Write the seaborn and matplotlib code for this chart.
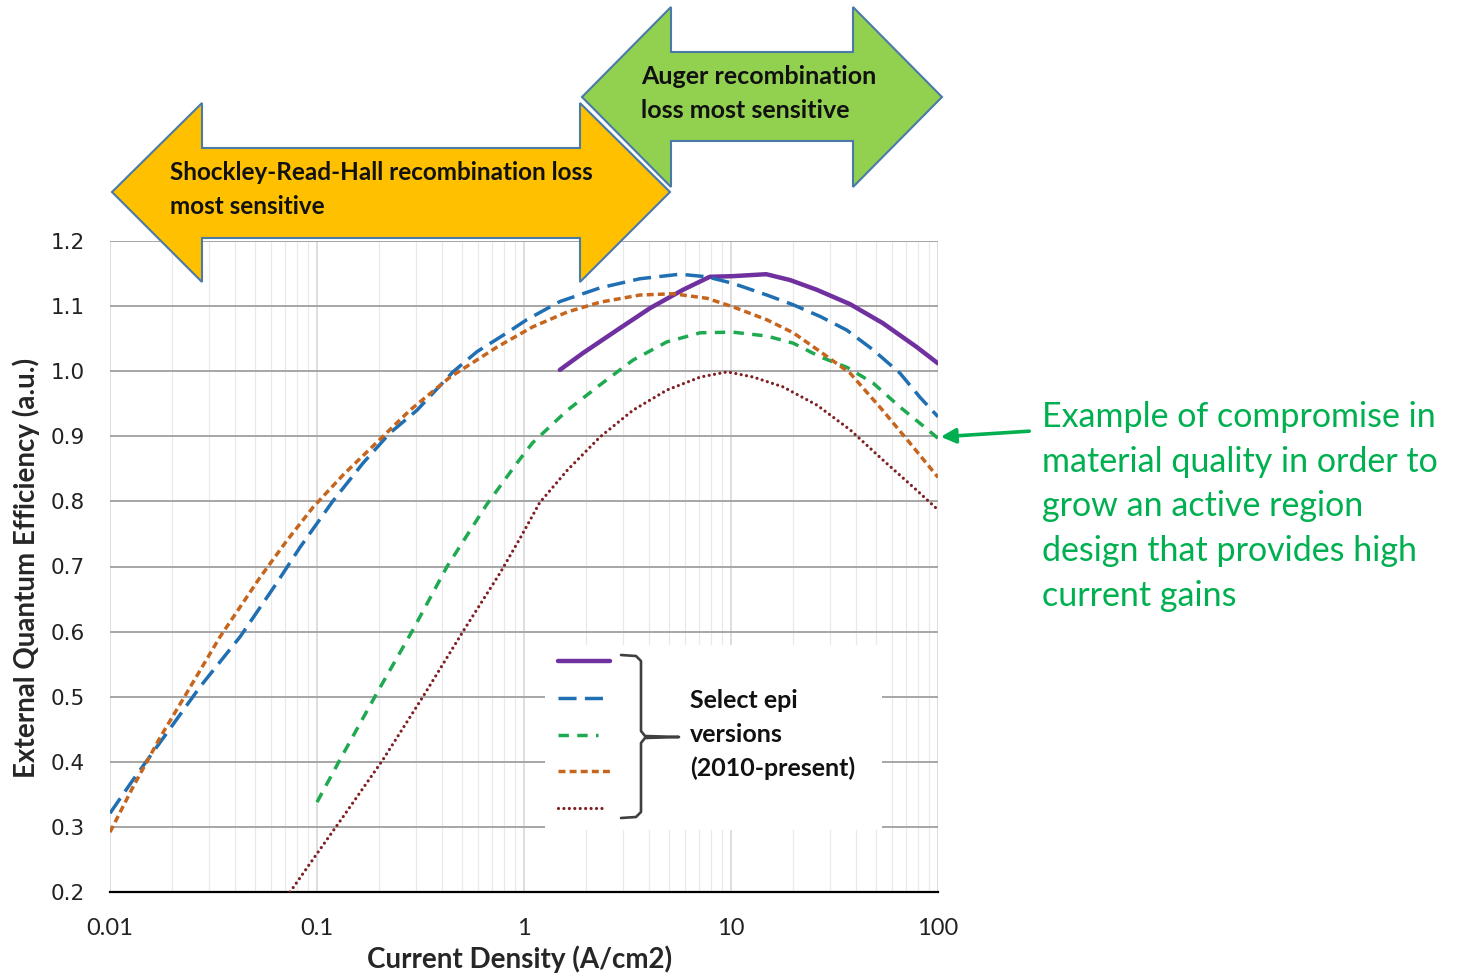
import matplotlib
matplotlib.use("Agg")
import matplotlib.pyplot as plt
import matplotlib.ticker as mtick
import seaborn as sns
from matplotlib.patches import Polygon, Rectangle, FancyArrowPatch
from matplotlib.lines import Line2D

# values
purple_x = [1.49, 1.93, 2.81, 4.07, 5.86, 7.9, 10.2, 14.8, 19.3, 26, 37.6, 54, 79, 100]
purple_y = [1.002, 1.028, 1.063, 1.097, 1.125, 1.145, 1.146, 1.149, 1.14, 1.125,
            1.103, 1.074, 1.037, 1.012]

blue_x = [0.01, 0.0129, 0.0188, 0.0272, 0.0425, 0.064, 0.083, 0.119, 0.167, 0.225,
          0.304, 0.454, 0.593, 0.828, 1.03, 1.49, 2.33, 3.63, 5.67, 7.65, 10.2, 14.9,
          20, 27, 36.3, 48.5, 65.5, 81.8, 100]
blue_y = [0.321, 0.372, 0.444, 0.515, 0.592, 0.675, 0.73, 0.80, 0.859, 0.905,
          0.94, 0.999, 1.03, 1.059, 1.079, 1.107, 1.128, 1.142, 1.149, 1.145, 1.135, 1.117,
          1.102, 1.084, 1.063, 1.033, 0.997, 0.96, 0.93]

green_x = [0.1, 0.129, 0.195, 0.291, 0.425, 0.66, 0.925, 1.1, 1.62, 2.33, 3.36, 4.9,
           7.1, 10.2, 14.9, 20, 27, 36.3, 48.5, 65.5, 81.8, 100]
green_y = [0.338, 0.403, 0.506, 0.603, 0.70, 0.795, 0.859, 0.89, 0.94, 0.979, 1.017, 1.045,
           1.059, 1.06, 1.054, 1.043, 1.022, 1.006, 0.982, 0.945, 0.92, 0.897]

orange_x = [0.01, 0.0129, 0.0175, 0.0235, 0.034, 0.053, 0.0716, 0.0957, 0.134, 0.195,
            0.281, 0.44, 0.74, 1.1, 1.62, 2.33, 3.63, 5.25, 7.65, 10.2, 14.9, 20, 27,
            37.6, 54, 73, 100]
orange_y = [0.292, 0.361, 0.438, 0.506, 0.592, 0.683, 0.74, 0.791, 0.841, 0.891,
            0.94, 0.991, 1.037, 1.068, 1.091, 1.106, 1.117, 1.119, 1.112, 1.099, 1.079, 1.059, 1.03,
            0.997, 0.94, 0.89, 0.837]

red_x = [0.0741, 0.1, 0.134, 0.208, 0.325, 0.507, 0.766, 0.956, 1.19, 1.62, 2.33, 3.36,
         4.9, 7.1, 9.6, 12.8, 17.8, 26, 37.6, 54, 79, 100]
red_y = [0.20, 0.259, 0.316, 0.403, 0.50, 0.60, 0.69, 0.743, 0.798, 0.848, 0.899, 0.94,
         0.971, 0.991, 0.999, 0.991, 0.976, 0.948, 0.91, 0.864, 0.817, 0.787]

x_ticks = [0.01, 0.1, 1, 10, 100]
x_tick_labels = ["0.01", "0.1", "1", "10", "100"]
y_ticks = [0.2, 0.3, 0.4, 0.5, 0.6, 0.7, 0.8, 0.9, 1.0, 1.1, 1.2]

legend_text = ["Select epi", "versions", "(2010-present)"]
note_lines = ["Example of compromise in", "material quality in order to",
              "grow an active region", "design that provides high", "current gains"]

sns.set_style("white")
plt.rcParams['font.family'] = ['Lato', 'DejaVu Sans']
plt.rcParams['lines.scale_dashes'] = False

W, H = 1465, 974
fig = plt.figure(figsize=(W / 100, H / 100), dpi=100)
ax = fig.add_axes([110 / W, 1 - 892 / H, 828 / W, 651 / H])


def fx(px):
    return px / W


def fy(py):
    return 1 - py / H


RED = "#7F1F22"
styles = [
    (purple_x, purple_y, "#7030A0", 3.2, "-"),
    (blue_x, blue_y, "#1F6FB2", 2.5, (0, (13, 6))),
    (green_x, green_y, "#1FAA52", 2.5, (0, (7.5, 6))),
    (orange_x, orange_y, "#C5651E", 2.5, (0, (5, 3))),
    (red_x, red_y, RED, 2.3, (0, (0.01, 3.9))),
]
for xs, ys, c, lw, ls in styles:
    sns.lineplot(x=xs, y=ys, ax=ax, color=c, lw=lw, linestyle=ls, zorder=3,
                 dash_capstyle="round" if c == RED else "butt")

ax.set_xscale("log")
ax.set_xlim(0.01, 100)
ax.set_ylim(0.2, 1.2)
ax.xaxis.set_major_locator(mtick.FixedLocator(x_ticks))
ax.xaxis.set_major_formatter(mtick.FixedFormatter(x_tick_labels))
ax.xaxis.set_minor_locator(mtick.LogLocator(base=10, subs=range(2, 10)))
ax.xaxis.set_minor_formatter(mtick.NullFormatter())
ax.yaxis.set_major_locator(mtick.FixedLocator(y_ticks))
ax.yaxis.set_major_formatter(mtick.FormatStrFormatter("%.1f"))

ax.grid(True, axis="y", which="major", color="#A6A6A6", lw=1.4)
ax.grid(True, axis="x", which="major", color="#D4D4D4", lw=1.1)
ax.grid(True, axis="x", which="minor", color="#E9E9E9", lw=0.9)
ax.set_axisbelow(True)

for s in ["left", "top", "right"]:
    ax.spines[s].set_visible(False)
ax.spines["bottom"].set_color("black")
ax.spines["bottom"].set_linewidth(1.6)

ax.tick_params(axis="x", which="major", direction="in", length=7, width=1.3,
               color="black", pad=19, labelsize=17, labelcolor="#222222")
ax.tick_params(axis="x", which="minor", direction="in", length=5, width=1.1,
               color="black")
ax.tick_params(axis="y", length=0, pad=18, labelsize=15.5, labelcolor="#222222")
for lab in ax.get_yticklabels():
    lab.set_family("DejaVu Sans")

ax.set_xlabel("Current Density (A/cm2)", fontsize=20, fontweight="bold")
ax.xaxis.set_label_coords((520 - 110) / 828, -(945 - 892) / 651)
ax.set_ylabel("External Quantum Efficiency (a.u.)", fontsize=20, fontweight="bold")
ax.yaxis.set_label_coords(-(110 - 40) / 828, 0.498)

# legend box
ax.add_patch(Rectangle((fx(545), fy(830)), fx(882) - fx(545), fy(645) - fy(830),
                       transform=fig.transFigure, facecolor="white",
                       edgecolor="none", zorder=2.5))
leg_rows = [661, 698, 735, 771, 808]
leg_ends = [610, 610, 598, 610, 605]
for (xs, ys, c, lw, ls), row, end in zip(styles, leg_rows, leg_ends):
    fig.add_artist(Line2D([fx(558), fx(end)], [fy(row), fy(row)], color=c,
                          lw=lw, linestyle=ls,
                          dash_capstyle="round" if c == RED else "butt"))
brace = [(621, 655), (636, 656), (641, 661), (641, 731), (645, 736), (679, 737),
         (645, 738), (641, 743), (641, 812), (636, 817), (621, 818)]
fig.add_artist(Line2D([fx(p[0]) for p in brace], [fy(p[1]) for p in brace],
                      color="#404040", lw=1.9, solid_joinstyle="round"))
for i, t in enumerate(legend_text):
    fig.text(fx(690), fy(701 + i * 33.5), t, fontsize=18, fontweight="bold",
             va="center", ha="left", color="#111111")

# arrows on top
green_arrow = [(582, 97), (671, 7), (671, 52), (853, 52), (853, 7), (942, 97),
               (853, 187), (853, 141), (671, 141), (671, 187)]
orange_arrow = [(112, 192), (202, 103), (202, 148), (580, 148), (580, 103), (670, 192),
                (580, 282), (580, 238), (202, 238), (202, 282)]
fig.add_artist(Polygon([(fx(a), fy(b)) for a, b in green_arrow], closed=True,
                       transform=fig.transFigure, facecolor="#92D050",
                       edgecolor="#4A7AA8", lw=1.5))
fig.add_artist(Polygon([(fx(a), fy(b)) for a, b in orange_arrow], closed=True,
                       transform=fig.transFigure, facecolor="#FFC000",
                       edgecolor="#4A7AA8", lw=1.5))
fig.text(fx(170), fy(172), "Shockley-Read-Hall recombination loss", fontsize=17.5,
         fontweight="bold", va="center", color="#111111")
fig.text(fx(170), fy(206), "most sensitive", fontsize=17.5, fontweight="bold",
         va="center", color="#111111")
fig.text(fx(641), fy(77), "Auger recombination", fontsize=18, fontweight="bold",
         va="center", color="#111111")
fig.text(fx(641), fy(111), "loss most sensitive", fontsize=18, fontweight="bold",
         va="center", color="#111111")

# side note
for i, t in enumerate(note_lines):
    fig.text(fx(1042), fy(417 + i * 44.7), t, fontsize=24.5, color="#00B050",
             va="center", ha="left")
fig.add_artist(FancyArrowPatch((fx(1032), fy(431)), (fx(938), fy(437)),
                               transform=fig.transFigure, arrowstyle="-|>",
                               mutation_scale=22, color="#00B050", lw=2.6))

fig.savefig("out.png", dpi=100)
